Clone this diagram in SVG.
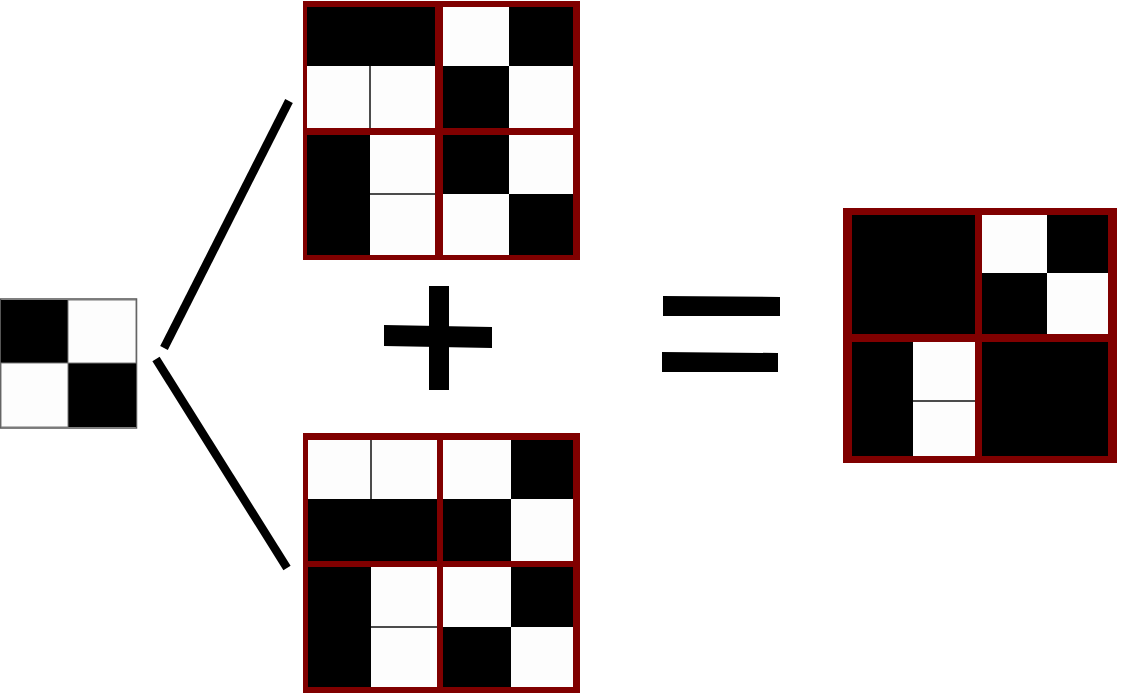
<svg xmlns="http://www.w3.org/2000/svg" width="1130" height="694" viewBox="0 0 1130 694">
<style>
.frame{fill:#800000}
.b{fill:#000}
.w{fill:#fdfdfd}
.sep{stroke:#111;stroke-width:1.5}
.conn{stroke:#000;stroke-width:8.5;fill:none}
.op{fill:#000}
</style>
<rect width="1130" height="694" fill="#fff"/>
<g id="source">
<rect x="0.5" y="299" width="136" height="129" fill="#fff" stroke="#555" stroke-width="1.5"/>
<rect x="1" y="300" width="67" height="63" class="b"/>
<rect x="68" y="363" width="68" height="64" class="b"/>
<rect x="1" y="363" width="67" height="64" fill="#fdfdfd" stroke="#777" stroke-width="1"/>
<rect x="68" y="300" width="68" height="63" fill="#fdfdfd" stroke="#777" stroke-width="1"/>
</g>
<g id="connectors">
<line class="conn" x1="164" y1="348" x2="289" y2="101"/>
<line class="conn" x1="156" y1="359" x2="287" y2="568"/>
</g>
<g id="top-grid">
<rect class="frame" x="303" y="1" width="277" height="259"/>
<rect class="b" x="307" y="7" width="128" height="59"/>
<rect class="w" x="443" y="7" width="66" height="59"/>
<rect class="b" x="509" y="7" width="64" height="59"/>
<rect class="w" x="307" y="66" width="63" height="62"/>
<rect class="w" x="370" y="66" width="65" height="62"/>
<rect class="b" x="443" y="66" width="66" height="62"/>
<rect class="w" x="509" y="66" width="64" height="62"/>
<rect class="b" x="307" y="135" width="63" height="120"/>
<rect class="w" x="370" y="135" width="65" height="59"/>
<rect class="w" x="370" y="194" width="65" height="61"/>
<rect class="b" x="443" y="135" width="66" height="59"/>
<rect class="w" x="509" y="135" width="64" height="59"/>
<rect class="w" x="443" y="194" width="66" height="61"/>
<rect class="b" x="509" y="194" width="64" height="61"/>
<line class="sep" x1="370" y1="66" x2="370" y2="128"/>
<line class="sep" x1="370" y1="194" x2="435" y2="194"/>
</g>
<g id="plus">
<rect class="op" x="429" y="286" width="20" height="104"/>
<polygon class="op" points="384,325 492,327 492,348 384,346"/>
</g>
<g id="bottom-grid">
<rect class="frame" x="303" y="433" width="277" height="260"/>
<rect class="w" x="308" y="440" width="63" height="59"/>
<rect class="w" x="371" y="440" width="66" height="59"/>
<rect class="w" x="443" y="440" width="68" height="59"/>
<rect class="b" x="511" y="440" width="62" height="59"/>
<rect class="b" x="308" y="499" width="129" height="62"/>
<rect class="b" x="443" y="499" width="68" height="62"/>
<rect class="w" x="511" y="499" width="62" height="62"/>
<rect class="b" x="308" y="567" width="63" height="120"/>
<rect class="w" x="371" y="567" width="66" height="60"/>
<rect class="w" x="371" y="627" width="66" height="60"/>
<rect class="w" x="443" y="567" width="68" height="60"/>
<rect class="b" x="511" y="567" width="62" height="60"/>
<rect class="b" x="443" y="627" width="68" height="60"/>
<rect class="w" x="511" y="627" width="62" height="60"/>
<line class="sep" x1="371" y1="440" x2="371" y2="499"/>
<line class="sep" x1="371" y1="627" x2="437" y2="627"/>
</g>
<g id="equals">
<polygon class="op" points="663,296 780,297 780,316 663,316"/>
<polygon class="op" points="662,352 778,353 778,372 662,372"/>
</g>
<g id="result-grid">
<rect class="frame" x="843" y="208" width="274" height="255"/>
<rect class="b" x="852" y="215" width="123" height="119"/>
<rect class="w" x="982" y="215" width="65" height="58"/>
<rect class="b" x="1047" y="215" width="61" height="58"/>
<rect class="b" x="982" y="273" width="65" height="61"/>
<rect class="w" x="1047" y="273" width="61" height="61"/>
<rect class="b" x="852" y="342" width="61" height="114"/>
<rect class="w" x="913" y="342" width="62" height="59"/>
<rect class="w" x="913" y="401" width="62" height="55"/>
<rect class="b" x="982" y="342" width="126" height="114"/>
<line class="sep" x1="913" y1="401" x2="975" y2="401" stroke-width="2.5"/>
</g>
</svg>
